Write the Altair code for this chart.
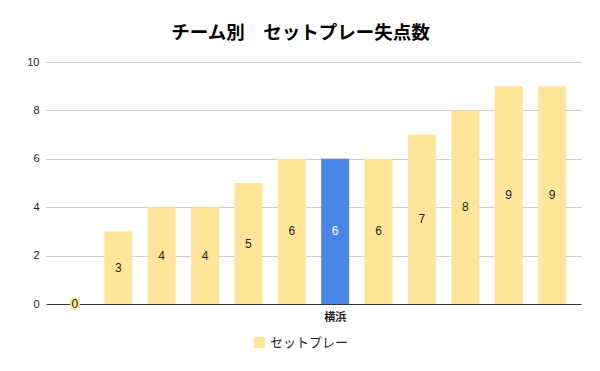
import altair as alt
import pandas as pd

teams = ["チーム1", "チーム2", "チーム3", "チーム4", "チーム5", "チーム6",
         "横浜", "チーム8", "チーム9", "チーム10", "チーム11", "チーム12"]
goals = [0, 3, 4, 4, 5, 6, 6, 6, 7, 8, 9, 9]
highlight = "横浜"
series_name = "セットプレー"
y_ticks = [0, 2, 4, 6, 8, 10]

df = pd.DataFrame({"team": teams, "goals": goals})
df["half"] = df["goals"] / 2
df["series"] = series_name
df["hl"] = df["team"] == highlight

FONT = "Noto Sans CJK JP"
yellow = "#FFE599"
blue = "#4A86E8"

x_enc = alt.X("team:N", sort=teams, title=None,
              scale=alt.Scale(paddingInner=0.355, paddingOuter=0.345),
              axis=alt.Axis(labelExpr=f"datum.value == '{highlight}' ? datum.value : ''",
                            ticks=False, domainColor="#333333", domainWidth=1,
                            labelAngle=0, labelFont=FONT, labelFontWeight="bold",
                            labelFontSize=11, labelColor="#222222", labelPadding=7))

bars = alt.Chart(df).mark_bar().encode(
    x=x_enc,
    y=alt.Y("goals:Q", title=None,
            scale=alt.Scale(domain=[0, 10]),
            axis=alt.Axis(values=y_ticks, domain=False, ticks=False,
                          gridColor="#cccccc", labelFont="Liberation Sans", labelFontSize=11,
                          labelColor="#222222", labelPadding=7)),
    color=alt.Color("series:N", scale=alt.Scale(range=[yellow]), title=None,
                    legend=alt.Legend(orient="none", legendX=207, legendY=274,
                                      symbolType="square", symbolSize=130,
                                      symbolStrokeWidth=0,
                                      labelFont=FONT, labelFontSize=13,
                                      labelColor="#222222")),
)

blue_bar = alt.Chart(df).transform_filter(alt.datum.hl).mark_bar(color=blue).encode(
    x=alt.X("team:N", sort=teams),
    y="goals:Q",
)

halo = alt.Chart(df).transform_filter(~alt.datum.hl).mark_text(
    font="Liberation Sans", fontSize=12, stroke=yellow,
    strokeWidth=4, strokeJoin="round", color=yellow).encode(
    x=alt.X("team:N", sort=teams),
    y="half:Q",
    text="goals:Q",
)

labels = alt.Chart(df).mark_text(font="Liberation Sans", fontSize=12).encode(
    x=alt.X("team:N", sort=teams),
    y="half:Q",
    text="goals:Q",
    color=alt.condition(alt.datum.hl, alt.value("#ffffff"), alt.value("#222222")),
)

chart = alt.layer(bars, blue_bar, halo, labels).properties(
    width=535, height=242,
    autosize=alt.AutoSizeParams(type="none"),
    padding={"left": 38, "top": 54, "right": 5, "bottom": 50},
    title=alt.TitleParams("チーム別　セットプレー失点数", font=FONT, fontSize=18.5,
                          fontWeight="bold", color="#000000", anchor="middle",
                          dx=-13, offset=14),
).configure_view(stroke=None)

chart.save("out.html", embed_options={"renderer": "svg", "actions": False})
